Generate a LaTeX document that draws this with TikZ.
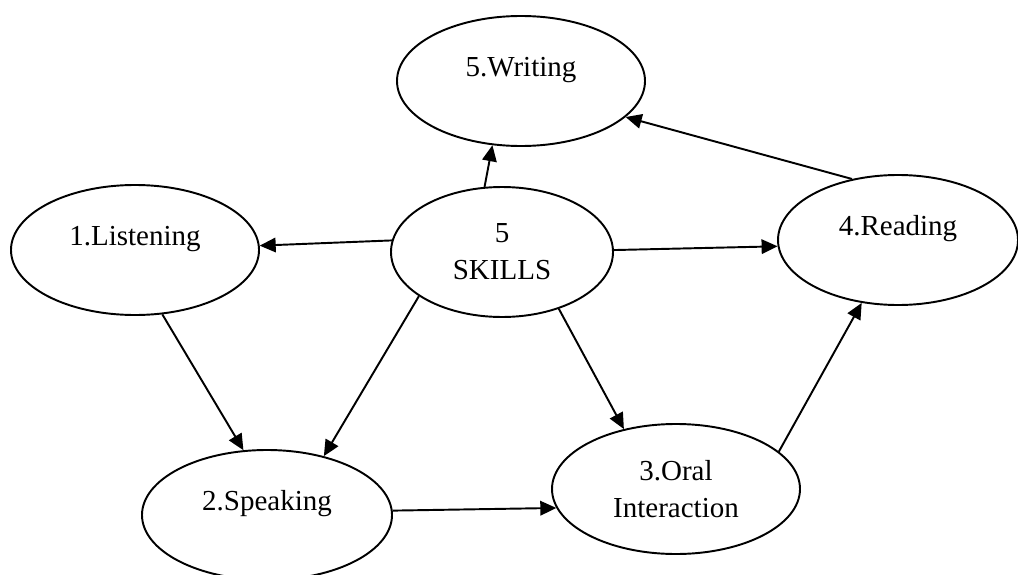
\documentclass[tikz,border=0pt]{standalone}
\usepackage{fontspec}
\setmainfont{Liberation Serif}
\usetikzlibrary{shapes.geometric}
\usetikzlibrary{arrows.meta}

\begin{document}
\begin{tikzpicture}[oval/.style={ellipse, draw, line width=1.1pt, inner sep=0pt, minimum width=4.96cm, minimum height=2.6cm, align=center, font=\fontsize{16.5}{21}\selectfont}, raised/.style={text height=0.4cm, text depth=0.575cm}, link/.style={-{Triangle[length=0.32cm, width=0.29cm]}, line width=1.1pt}]

    \useasboundingbox (0, 0) rectangle (20.36, 11.48);

    \node at (10.42, 9.86) [oval, raised] (writing) {5.Writing};
    \node at (2.70, 6.48) [oval, raised] (listening) {1.Listening};
    \node at (10.04, 6.44) [oval, minimum width=4.44cm] (skills) {5\\SKILLS};
    \node at (17.96, 6.68) [oval, raised, minimum width=4.8cm] (reading) {4.Reading};
    \node at (5.34, 1.18) [oval, raised, minimum width=5cm] (speaking) {2.Speaking};
    \node at (13.52, 1.70) [oval] (oral) {3.Oral\\Interaction};

    %From the centre
    \draw[link] (skills.105) -- (writing.246);
    \draw[link] (skills.174) -- (listening.2);
    \draw[link] (skills.1) -- (reading.183.4);
    \draw[link] (skills.208.7) -- (speaking.46.5);
    \draw[link] (skills.315) -- (oral.131.3);

    %Round the cycle
    \draw[link] (listening.293) -- (speaking.110.3);
    \draw[link] (speaking.2.7) -- (oral.189.4);
    \draw[link] (oral.20.9) -- (reading.240.6);
    \draw[link] (reading.127.8) -- (writing.341.4);
\end{tikzpicture}
\end{document}
